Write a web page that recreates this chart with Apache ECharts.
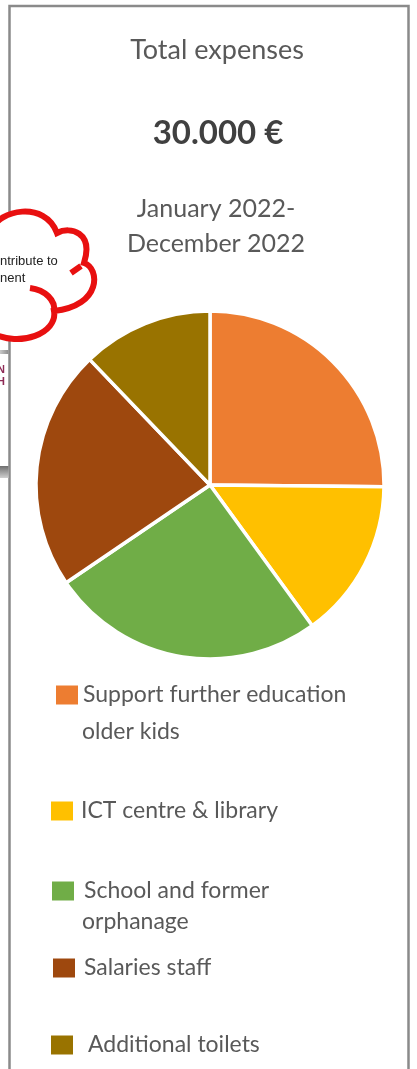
<!DOCTYPE html>
<html>
<head>
<meta charset="utf-8">
<script src="https://cdn.jsdelivr.net/npm/echarts@6/dist/echarts.min.js"></script>
<style>
  html, body { margin: 0; padding: 0; background: #fff; }
  #chart { width: 417px; height: 1069px; }
</style>
</head>
<body>
<div id="chart"></div>
<script>
// expenses Jan 2022 - Dec 2022, total 30.000 €
const categories = [
  'Support further education\nolder kids',
  'ICT centre & library',
  'School and former\norphanage',
  'Salaries staff',
  'Additional toilets'
];
const values = [7550, 4450, 7650, 6700, 3650];
const colors = ['#ed7d31', '#ffc000', '#70ad47', '#9e480e', '#997300'];

// legend layout (left of square, vertical middle, extra text offset)
const legendX = [56, 51, 52, 53, 51];
const legendY = [695, 811, 891, 968, 1045];
const legendPad = [0, 3, 5, 4, 10];
const secondLineY = [732, null, 922, null, null];

const textColor = '#595959';

// red cloud callout shapes
echarts.graphic.registerShape('cloud', echarts.graphic.extendPath(
  'M -8 230 C -2 210 45 200 57 233 C 70 226 94 232 84 263 C 100 268 102 306 54 311 C 58 333 20 348 -8 333 Z'
));
echarts.graphic.registerShape('cloudInner', echarts.graphic.extendPath(
  'M 71 273 L 81 266 M 30 288 C 45 290 56 300 54 312'
));

let chart = echarts.init(document.getElementById('chart'));

let legends = categories.map((name, i) => ({
  data: [name],
  left: legendX[i],
  top: legendY[i] - 13,
  padding: 0,
  icon: 'rect',
  itemWidth: 22,
  itemHeight: 19,
  itemStyle: { borderWidth: 0 },
  selectedMode: false,
  formatter: n => n.split('\n')[0],
  textStyle: {
    fontFamily: 'Lato',
    fontSize: 23,
    lineHeight: 26,
    color: textColor,
    padding: [0, 0, 0, legendPad[i]]
  }
}));

let graphics = [
  // slide frame
  {
    type: 'rect', z: 1,
    shape: { x: 9.5, y: 6, width: 399, height: 1100 },
    style: { fill: 'none', stroke: '#8a8a8a', lineWidth: 2.5 }
  },
  { type: 'text', x: 217, y: 50, style: { text: 'Total expenses', font: '27px Lato', fill: textColor, align: 'center', verticalAlign: 'middle' } },
  { type: 'text', x: 218, y: 133, style: { text: '30.000 €', font: 'bold 33px Lato', fill: '#404040', align: 'center', verticalAlign: 'middle' } },
  { type: 'text', x: 216, y: 209, style: { text: 'January 2022-', font: '25px Lato', fill: textColor, align: 'center', verticalAlign: 'middle' } },
  { type: 'text', x: 216, y: 244, style: { text: 'December 2022', font: '25px Lato', fill: textColor, align: 'center', verticalAlign: 'middle' } },
  // bits of the neighbouring slide on the left
  {
    type: 'rect', z: 2,
    shape: { x: 0, y: 350, width: 8.5, height: 4 },
    style: { fill: new echarts.graphic.LinearGradient(0, 0, 1, 0, [{ offset: 0, color: '#c9c9c9' }, { offset: 1, color: '#8e8e8e' }]) }
  },
  { type: 'text', x: -3, y: 370, z: 2, style: { text: 'N', font: 'bold 11px Liberation Sans', fill: '#8e2a55', verticalAlign: 'middle' } },
  { type: 'text', x: -3, y: 382, z: 2, style: { text: 'H', font: 'bold 11px Liberation Sans', fill: '#8e2a55', verticalAlign: 'middle' } },
  {
    type: 'rect', z: 2,
    shape: { x: 0, y: 466, width: 8.5, height: 12 },
    style: { fill: new echarts.graphic.LinearGradient(0, 0, 0, 1, [{ offset: 0, color: '#6e6e6e' }, { offset: 1, color: '#cfcfcf' }]) }
  },
  { type: 'cloud', z: 5, style: { fill: '#fff', stroke: '#e81010', lineWidth: 6 } },
  { type: 'cloudInner', z: 6, style: { fill: 'none', stroke: '#e81010', lineWidth: 6 } },
  { type: 'text', x: 0, y: 261, z: 7, style: { text: 'ntribute to', font: '13px Liberation Sans', fill: '#222', verticalAlign: 'middle' } },
  { type: 'text', x: 0, y: 278, z: 7, style: { text: 'nent', font: '13px Liberation Sans', fill: '#222', verticalAlign: 'middle' } }
];

// wrapped second lines of the legend labels
categories.forEach((name, i) => {
  let parts = name.split('\n');
  if (parts.length > 1) {
    graphics.push({
      type: 'text', x: 82, y: secondLineY[i],
      style: { text: parts[1], font: '23px Lato', fill: textColor, verticalAlign: 'middle' }
    });
  }
});

let option = {
  animation: false,
  color: colors,
  legend: legends,
  graphic: graphics,
  series: [{
    type: 'pie',
    center: [210, 485],
    radius: 174,
    startAngle: 90,
    clockwise: true,
    label: { show: false },
    labelLine: { show: false },
    emphasis: { disabled: true },
    itemStyle: { borderColor: '#fff', borderWidth: 3.5 },
    data: categories.map((name, i) => ({ name: name, value: values[i] }))
  }]
};

chart.setOption(option);
window.addEventListener('resize', () => chart.resize());
</script>
</body>
</html>
